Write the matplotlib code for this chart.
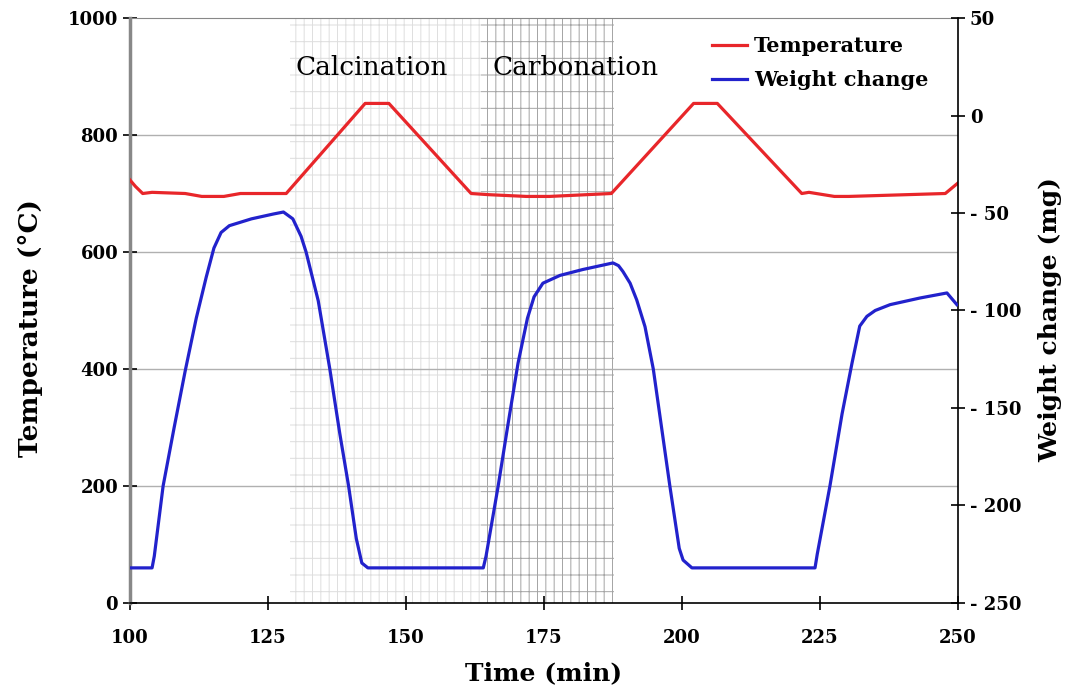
import matplotlib
matplotlib.use('Agg')
import matplotlib.pyplot as plt

plt.rcParams['font.family'] = ['DejaVu Serif']
plt.rcParams['hatch.linewidth'] = 0.7

# temperature profile (left axis, degC)
temp_t = [100, 101, 102.3, 104, 110, 113, 117, 120, 128.3, 142.6, 146.9, 161.8, 165,
          171.8, 176, 187.2, 202.1, 206.4, 221.7, 223, 227.6, 230.2, 247.7, 250]
temp_v = [723, 712, 700, 702, 700, 695, 695, 700, 700, 854, 854, 700, 698,
          695, 695, 700, 854, 854, 700, 702, 695, 695, 700, 718]

# weight change (right axis, mg)
weight_t = [100, 104, 104.4, 106, 108, 110, 112, 113.8, 115.2, 116.5, 118, 122, 126, 127.8,
            129.5, 131, 131.9, 134.1, 136.2, 138, 139.6, 141, 142, 143.1,
            164, 164.5, 166.7, 168.5, 170.3, 172, 173.2, 174.8, 177.9, 182, 187.5,
            188.5, 189.3, 190.6, 191.8, 193.3, 194.8, 197.8, 199.5, 200.2, 201.8,
            224.1, 224.5, 226.8, 229, 230.8, 232.2, 233.5, 235, 237.7, 243.1, 248, 249.8]
weight_v = [-232, -232, -226, -190, -160, -131, -104, -83, -68, -60, -56.5, -53, -50.5, -49.5,
            -53, -62, -70, -95, -130, -163, -190, -217, -229.5, -232,
            -232, -226, -190, -158, -127, -104, -93, -86, -82, -79, -75.6,
            -77, -80, -86, -94.6, -108.3, -130, -190, -222, -228, -232,
            -232, -225, -190, -153, -127, -108, -103, -100, -97, -93.6, -91, -97]

calc_span = (129, 163.5)
carb_span = (163.5, 187.7)

x_ticks = [100, 125, 150, 175, 200, 225, 250]
t_ticks = [0, 200, 400, 600, 800, 1000]
w_ticks = [50, 0, -50, -100, -150, -200, -250]
w_labels = ['50', '0', '- 50', '- 100', '- 150', '- 200', '- 250']

fig = plt.figure(figsize=(10.77, 6.93), dpi=100)
ax = fig.add_axes([0.1207, 0.1299, 0.7688, 0.8441])
ax2 = ax.twinx()

# shaded process regions (dotted grid look)
ax.axvspan(*calc_span, facecolor='none', edgecolor='#dedede', hatch='||-', lw=0)
ax.axvspan(*carb_span, facecolor='none', edgecolor='#a4a4a4', hatch='||-', lw=0)

for y in [200, 400, 600, 800]:
    ax.axhline(y, color='#b0b0b0', lw=1, zorder=1)

l1, = ax.plot(temp_t, temp_v, color='#e8262a', lw=2.3, label='Temperature', zorder=3)
l2, = ax2.plot(weight_t, weight_v, color='#2222cc', lw=2.3, label='Weight change', zorder=3)

ax.set_xlim(100, 250)
ax.set_ylim(0, 1000)
ax2.set_ylim(-250, 50)
ax.set_xticks(x_ticks)
ax.set_yticks(t_ticks)
ax2.set_yticks(w_ticks)
ax2.set_yticklabels(w_labels)

for a in (ax, ax2):
    a.tick_params(direction='inout', length=10, width=1.2, labelsize=13)
    for lab in a.get_xticklabels() + a.get_yticklabels():
        lab.set_fontweight('bold')
ax.tick_params(axis='x', pad=14)

ax.spines['left'].set_color('#888888')
ax.spines['left'].set_linewidth(2.5)
ax.spines['top'].set_color('#888888')
ax2.spines['left'].set_visible(False)
ax2.spines['top'].set_visible(False)
ax2.spines['bottom'].set_visible(False)
ax2.spines['right'].set_linewidth(1.2)
ax.spines['bottom'].set_linewidth(1.2)
ax.spines['right'].set_visible(False)

ax.set_xlabel('Time (min)', fontsize=18, fontweight='bold')
ax.set_ylabel('Temperature (°C)', fontsize=19, fontweight='bold')
ax2.set_ylabel('Weight change (mg)', fontsize=18, fontweight='bold', rotation=90)
ax.xaxis.set_label_coords(0.5, -0.1)
ax.yaxis.set_label_coords(-0.105, 0.47)
ax2.yaxis.set_label_coords(1.097, 0.485)

ax.text(143.8, 915, 'Calcination', fontsize=19, ha='center', va='center')
ax.text(180.7, 915, 'Carbonation', fontsize=19, ha='center', va='center')

ax2.legend(handles=[l1, l2], loc='upper right', bbox_to_anchor=(0.9865, 1.0015),
           frameon=False, prop={'weight': 'bold', 'size': 15},
           handlelength=1.7, handletextpad=0.3, labelspacing=0.7)

fig.savefig('out.png', dpi=100)
